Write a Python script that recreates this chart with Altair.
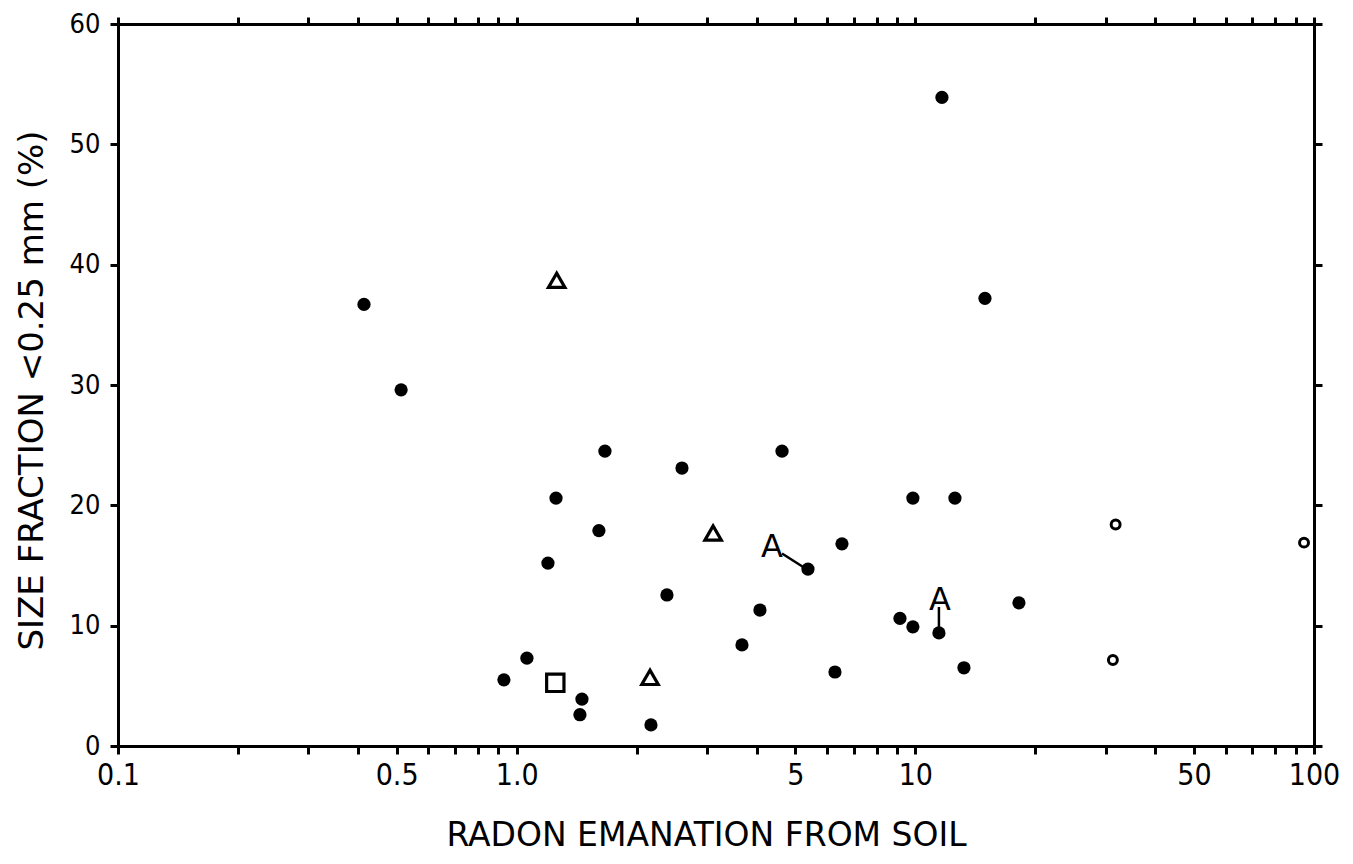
import altair as alt
import pandas as pd

# Filled circles (radon emanation, size fraction %)
dot_x = [0.414, 0.513, 0.929, 1.061, 1.198, 1.255, 1.458, 1.441, 1.608, 1.665,
         2.172, 2.382, 2.598, 3.674, 4.076, 4.63, 5.379, 6.287, 6.546, 9.15,
         9.86, 9.86, 11.46, 11.66, 12.57, 13.24, 14.95, 18.19]
dot_y = [36.7, 29.6, 5.5, 7.3, 15.2, 20.6, 3.9, 2.6, 17.9, 24.5,
         1.75, 12.55, 23.1, 8.4, 11.3, 24.5, 14.7, 6.15, 16.8, 10.6,
         9.9, 20.6, 9.4, 53.9, 20.6, 6.5, 37.2, 11.9]

# Open circles
ring_x = [31.8, 31.3, 94.4]
ring_y = [18.4, 7.15, 16.9]

# Open triangles
tri_x = [1.26, 3.11, 2.16]
tri_y = [38.7, 17.7, 5.7]

# Open square
sq_x = [1.25]
sq_y = [5.25]

# "A" annotations and their connector lines
lab_text = ["A", "A"]
lab_x = [4.37, 11.52]
lab_y = [16.5, 12.1]
con_x = [4.63, 11.46]
con_y = [16.0, 11.55]
con_x2 = [5.22, 11.46]
con_y2 = [14.9, 9.65]

x_ticks = [0.1, 0.2, 0.3, 0.4, 0.5, 0.6, 0.7, 0.8, 0.9,
           1, 2, 3, 4, 5, 6, 7, 8, 9,
           10, 20, 30, 40, 50, 60, 70, 80, 90, 100]
x_labels = {0.1: "0.1", 0.5: "0.5", 1: "1.0", 5: "5", 10: "10", 50: "50", 100: "100"}
y_ticks = [0, 10, 20, 30, 40, 50, 60]

label_expr = " : ".join(
    f"datum.value == {k} ? '{v}'" for k, v in x_labels.items()
) + " : ''"

FONT = "DejaVu Sans Condensed, DejaVu Sans, sans-serif"
TFONT = "DejaVu Sans, sans-serif"

dots = pd.DataFrame({"x": dot_x, "y": dot_y})
rings = pd.DataFrame({"x": ring_x, "y": ring_y})
tris = pd.DataFrame({"x": tri_x, "y": tri_y})
sqs = pd.DataFrame({"x": sq_x, "y": sq_y})
labs = pd.DataFrame({"x": lab_x, "y": lab_y, "t": lab_text})
cons = pd.DataFrame({"x": con_x, "y": con_y, "x2": con_x2, "y2": con_y2})

xs = alt.Scale(type="log", domain=[0.1, 100], nice=False)
ys = alt.Scale(domain=[0, 60], nice=False)

common_axis = dict(grid=False, domainColor="black", domainWidth=3, tickColor="black",
                   tickWidth=3, labelColor="black", titleColor="black",
                   labelFont=FONT, titleFont=TFONT, titleFontWeight="normal")

bottom_axis = alt.Axis(orient="bottom", values=x_ticks, labelExpr=label_expr,
                       tickSize=8, labelPadding=6, labelFontSize=30,
                       title="RADON EMANATION FROM SOIL", titleFontSize=33,
                       titleX=588, titleY=89, titleBaseline="middle",
                       labelFlush=False, labelOverlap=False, **common_axis)
left_axis = alt.Axis(orient="left", values=y_ticks, tickSize=8, labelPadding=10,
                     labelFontSize=27, title="SIZE FRACTION <0.25 mm (%)",
                     titleFontSize=34, titleX=-86, titleY=366, titleAngle=-90,
                     titleBaseline="middle", titleAlign="center",
                     labelFlush=False, **common_axis)
top_axis = alt.Axis(orient="top", values=x_ticks, labels=False, tickSize=7,
                    **common_axis)
right_axis = alt.Axis(orient="right", values=y_ticks, labels=False, tickSize=8,
                      **common_axis)

base_dots = alt.Chart(dots).mark_point(shape="circle", filled=True, color="black",
                                       size=175, opacity=1).encode(
    x=alt.X("x:Q", scale=xs, axis=bottom_axis),
    y=alt.Y("y:Q", scale=ys, axis=left_axis),
)

ring_layer = alt.Chart(rings).mark_point(shape="circle", filled=False, color="black",
                                         size=80, strokeWidth=3, opacity=1).encode(
    x=alt.X("x:Q", scale=xs, axis=top_axis, title=None),
    y=alt.Y("y:Q", scale=ys, axis=right_axis, title=None),
)

tri_layer = alt.Chart(tris).mark_point(shape="triangle-up", filled=False, color="black",
                                       size=270, strokeWidth=3.2, opacity=1).encode(
    x=alt.X("x:Q", scale=xs, axis=None),
    y=alt.Y("y:Q", scale=ys, axis=None),
)

sq_layer = alt.Chart(sqs).mark_point(shape="square", filled=False, color="black",
                                     size=300, strokeWidth=3.2, opacity=1).encode(
    x=alt.X("x:Q", scale=xs, axis=None),
    y=alt.Y("y:Q", scale=ys, axis=None),
)

con_layer = alt.Chart(cons).mark_rule(color="black", strokeWidth=2.5).encode(
    x=alt.X("x:Q", scale=xs, axis=None),
    y=alt.Y("y:Q", scale=ys, axis=None),
    x2="x2:Q",
    y2="y2:Q",
)

lab_layer = alt.Chart(labs).mark_text(font=TFONT, fontSize=32, color="black",
                                      baseline="middle", align="center").encode(
    x=alt.X("x:Q", scale=xs, axis=None),
    y=alt.Y("y:Q", scale=ys, axis=None),
    text="t:N",
)

chart = alt.layer(
    base_dots, ring_layer, tri_layer, sq_layer, con_layer, lab_layer
).resolve_axis(x="independent", y="independent").properties(
    width=1196, height=722,
    autosize=alt.AutoSizeParams(type="none"),
    padding={"left": 110, "top": 16, "right": 30, "bottom": 110},
).configure_view(stroke=None).configure(background="white")

chart.save("out.html", embed_options={"renderer": "svg", "actions": False})
